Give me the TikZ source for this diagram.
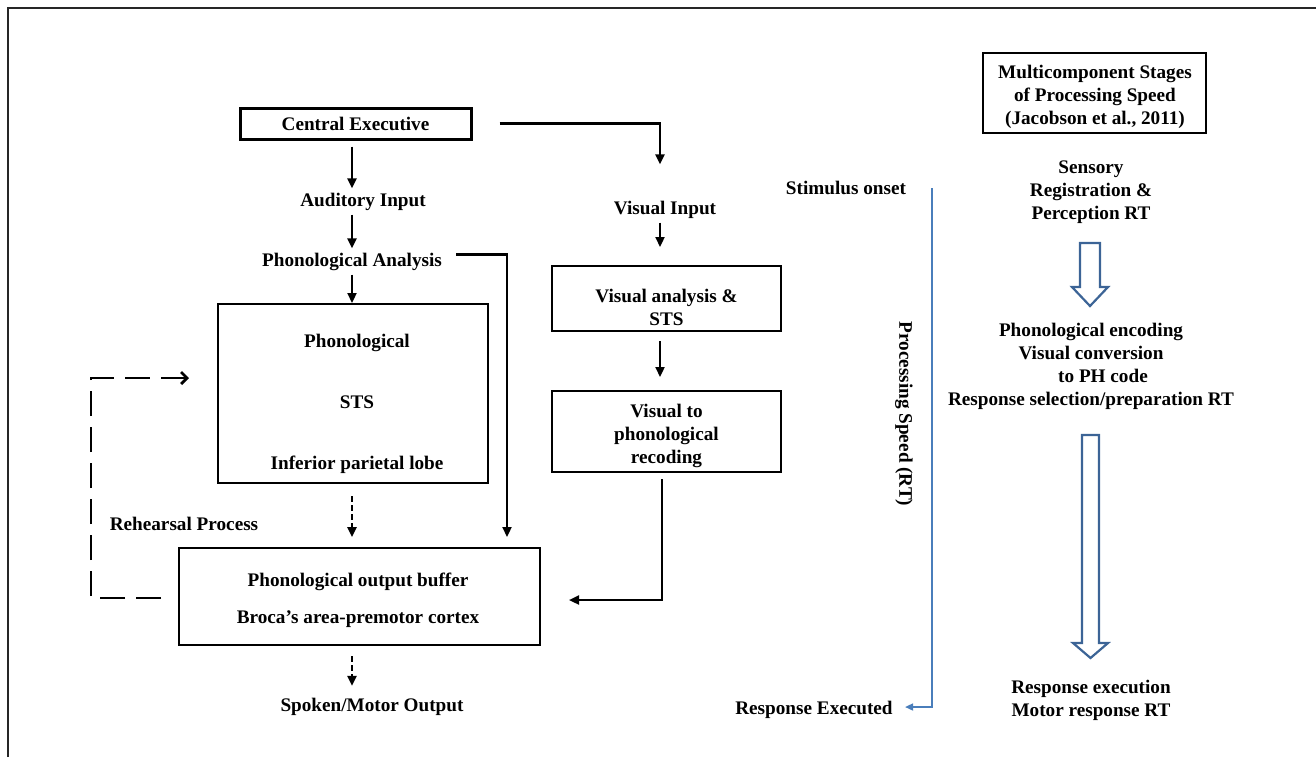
\documentclass[tikz,border=0pt]{standalone}
\usepackage{fontspec}
\setmainfont{Liberation Serif}
\usetikzlibrary{calc, arrows.meta}
\definecolor{rtblue}{HTML}{4A7EBB}
\definecolor{stageblue}{HTML}{3C6496}

\begin{document}
\begin{tikzpicture}[
  x=0.5pt, y=-0.5pt,
  every node/.style={font=\fontsize{9.6}{11.5}\selectfont\bfseries, inner sep=2pt},
  box/.style={draw, line width=1pt},
  txt/.style={align=center},
  >={Triangle[length=5pt,width=4.5pt]},
  flow/.style={->, line width=1.1pt},
  dashflow/.style={->, line width=1.2pt, dash pattern=on 3pt off 1.5pt},
  rehearse/.style={-{Straight Barb[length=3pt,width=6pt]}, line width=1.4pt,
    dash pattern=on 12.5pt off 5.5pt},
  rtline/.style={-{Triangle[length=4pt,width=3.5pt]}, draw=rtblue, line width=0.8pt},
  stage/.style={draw=stageblue, line width=1.1pt, fill=white, line join=miter}
]
  \useasboundingbox (0,0) rectangle (1316,757);
  \draw[line width=1pt, black!85] (8,757) -- (8,8) -- (1316,8);

  % working memory side
  \node (ce) [box, line width=1.5pt, minimum width=115.5pt, minimum height=15.5pt] at (355.5,123.5) {Central Executive};
  \node (audin) at (363,201.5) {Auditory Input};
  \node (phonan) at (352,261.5) {Phonological Analysis};
  \node (phon) [box, minimum width=135pt, minimum height=89.5pt] at (353,393.5) {};
  \node (phonA) at (357,342.5) {Phonological};
  \node (phonB) at (357,402) {STS};
  \node (phonC) at (357,464.5) {Inferior parietal lobe};
  \node (buffer) [box, minimum width=180.5pt, minimum height=48.5pt] at (359.5,596.5) {};
  \node (bufferText) [txt] at (358,600) {Phonological output buffer\\[7pt]Broca's area-premotor cortex};
  \node (spoken) at (372,707) {Spoken/Motor Output};
  \node (rehearsal) at (184,524) {Rehearsal Process};

  \node (visin) at (665,209.5) {Visual Input};
  \node (visan) [box, minimum width=114.5pt, minimum height=32.5pt] at (666.5,298.5) {};
  \node (visanText) [txt] at (666.5,307.5) {Visual analysis \&\\STS};
  \node (vistoph) [box, minimum width=114.5pt, minimum height=40.5pt] at (666.5,431.5) {};
  \node (vistophText) [txt] at (666.5,435.5) {Visual to\\phonological\\recoding};

  \coordinate (lane) at (352,0);
  \coordinate (vlane) at (660,0);
  \coordinate (vlanetwo) at (662,0);

  \draw[flow, shorten <=3pt] (ce.south -| lane) -- (audin.north -| lane);
  \draw[flow] (audin.south -| lane) -- (phonan.north -| lane);
  \draw[flow] (phonan.south -| lane) -- (phon.north -| lane);
  \draw[dashflow, shorten <=6pt, shorten >=5pt] (phon.south -| lane) -- (buffer.north -| lane);
  \draw[dashflow, shorten <=5pt, shorten >=4pt] (buffer.south -| lane) -- (spoken.north -| lane);
  \draw[flow, shorten <=5pt, shorten >=5pt] ([yshift=3.5pt]phonan.east) -| ($(buffer.north west)+(329,0)$);

  \draw[flow, shorten <=13.5pt, shorten >=16pt] (ce.east) -| (visin.north -| vlane);
  \draw[flow, shorten >=9pt] (visin.south -| vlane) -- (visan.north -| vlane);
  \draw[flow, shorten <=4.5pt, shorten >=6.5pt] (visan.south -| vlane) -- (vistoph.north -| vlane);
  \draw[flow, shorten <=3pt, shorten >=14pt] (vistoph.south -| vlanetwo) |- ([yshift=-1.75pt]buffer.east);

  % rehearsal loop
  \draw[rehearse, shorten <=8.5pt, shorten >=14pt] ([yshift=-0.75pt]buffer.west) -- ++(-87,0) |- ([yshift=7.75pt]phon.west);

  % processing speed axis
  \node (stim) at (846,188) {Stimulus onset};
  \node (respex) at (814,710) {Response Executed};
  \node (speed) [rotate=-90] at (904,414) {Processing Speed\ (RT)};
  \coordinate (rttop) at (932,188);
  \draw[rtline, shorten >=4pt] (rttop) |- ([yshift=1.5pt]respex.east);

  % stages
  \node (multi) [box, line width=1.3pt, minimum width=111.5pt, minimum height=40pt] at (1094.5,93) {};
  \node (multiText) [txt] at (1095,97) {Multicomponent Stages\\of Processing Speed\\(Jacobson et al., 2011)};
  \node (sensory) [txt] at (1091,192.5) {Sensory\\Registration \&\\Perception RT};
  \node (encoding) [txt] at (1091,366)
    {Phonological encoding\\Visual conversion\\\hspace*{12pt}to PH code\\Response selection/preparation RT};
  \node (exec) [txt] at (1091,700) {Response execution\\Motor response RT};

  \draw[stage] (1080,243) -- (1100,243) -- (1100,287) -- (1108,287) -- (1090,306)
    -- (1072,287) -- (1080,287) -- cycle;
  \draw[stage] (1082,435) -- (1099,435) -- (1099,643) -- (1108,643) -- (1090.5,658)
    -- (1073,643) -- (1082,643) -- cycle;
\end{tikzpicture}
\end{document}
